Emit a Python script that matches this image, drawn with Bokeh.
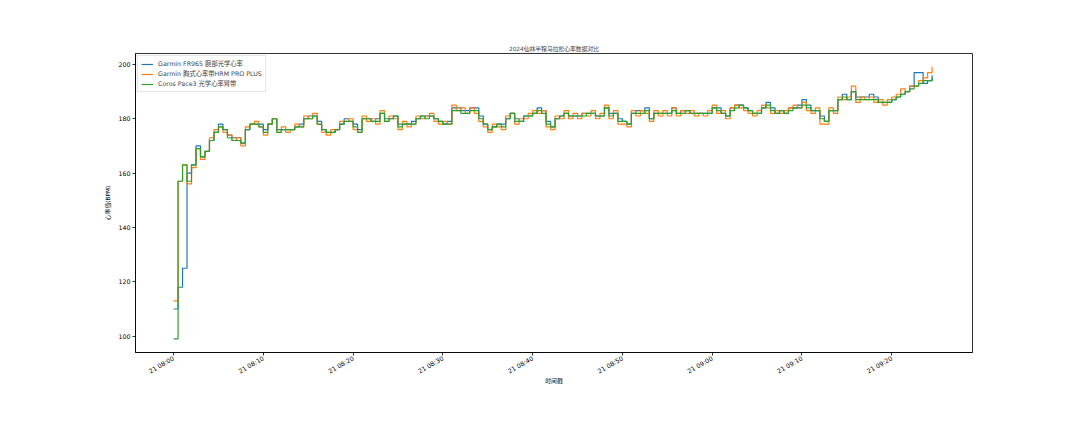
import math
from datetime import datetime, timedelta
from bokeh.plotting import figure
from bokeh.models import Range1d, FixedTicker, DatetimeTickFormatter, Legend, LegendItem
from bokeh.embed import file_html
from bokeh.resources import INLINE

TITLE = "2024仙林半程马拉松心率数据对比"
XLABEL = "时间戳"
YLABEL = "心率值(BPM)"
LABELS = ["Garmin FR965 腕部光学心率", "Garmin 胸式心率带HRM PRO PLUS", "Coros Pace3 光学心率臂带"]
COLORS = ["#1f77b4", "#ff7f0e", "#2ca02c"]

# samples every 30 s starting 08:00:00
fr965 = [
    110, 118, 125, 160, 163, 170, 166, 168, 172, 175,
    178, 176, 174, 173, 173, 171, 176, 178, 178, 178,
    176, 178, 180, 176, 176, 176, 176, 177, 178, 180,
    181, 181, 179, 176, 175, 175, 176, 178, 180, 179,
    178, 176, 180, 180, 179, 180, 182, 180, 180, 181,
    178, 178, 178, 179, 180, 181, 181, 181, 180, 179,
    178, 179, 184, 184, 183, 183, 184, 184, 181, 178,
    176, 177, 178, 178, 180, 182, 180, 179, 181, 181,
    182, 184, 183, 179, 177, 180, 181, 182, 181, 181,
    181, 182, 182, 182, 181, 181, 184, 182, 182, 180,
    179, 178, 182, 183, 183, 184, 180, 182, 182, 182,
    182, 184, 182, 183, 183, 182, 182, 182, 182, 182,
    184, 184, 182, 181, 184, 185, 185, 184, 183, 182,
    182, 184, 186, 184, 182, 183, 182, 184, 184, 185,
    187, 185, 183, 183, 181, 179, 183, 183, 187, 189,
    187, 190, 188, 188, 188, 189, 188, 186, 186, 186,
    187, 188, 189, 190, 192, 197, 197, 193, 194, 196,
]
hrm_pro = [
    113, 157, 163, 156, 162, 169, 165, 168, 173, 176,
    177, 175, 174, 172, 173, 170, 177, 178, 179, 177,
    174, 178, 180, 175, 177, 175, 176, 178, 177, 181,
    180, 182, 178, 175, 174, 176, 176, 179, 179, 180,
    176, 175, 181, 179, 180, 178, 183, 179, 181, 180,
    176, 179, 177, 178, 181, 180, 181, 182, 179, 178,
    179, 178, 185, 183, 184, 182, 184, 182, 179, 177,
    175, 178, 177, 176, 181, 182, 178, 180, 180, 182,
    183, 182, 183, 177, 176, 181, 180, 183, 180, 182,
    180, 182, 181, 183, 180, 182, 185, 180, 183, 178,
    178, 177, 183, 181, 183, 182, 179, 183, 181, 183,
    181, 184, 181, 183, 182, 183, 181, 182, 181, 183,
    185, 182, 183, 180, 184, 185, 184, 183, 182, 181,
    183, 185, 184, 182, 183, 182, 183, 184, 185, 184,
    186, 183, 182, 184, 178, 178, 184, 182, 188, 187,
    188, 192, 186, 188, 187, 188, 186, 187, 185, 187,
    188, 189, 191, 190, 192, 192, 194, 195, 197, 199,
]
pace3 = [
    99, 157, 163, 157, 163, 169, 166, 168, 172, 175,
    177, 176, 173, 172, 172, 171, 176, 178, 178, 177,
    175, 178, 180, 175, 176, 176, 176, 177, 177, 180,
    180, 181, 178, 176, 175, 175, 176, 178, 179, 179,
    177, 175, 180, 180, 179, 179, 182, 179, 180, 181,
    177, 178, 178, 178, 180, 181, 180, 181, 180, 179,
    178, 178, 183, 183, 182, 182, 183, 183, 180, 178,
    176, 177, 178, 177, 180, 182, 179, 179, 181, 181,
    182, 183, 182, 178, 177, 180, 181, 182, 181, 181,
    181, 181, 182, 182, 181, 181, 184, 181, 182, 179,
    179, 178, 182, 182, 182, 183, 180, 182, 182, 182,
    182, 183, 182, 182, 183, 182, 182, 182, 182, 182,
    184, 183, 182, 181, 183, 184, 185, 184, 183, 182,
    182, 184, 185, 183, 182, 183, 182, 183, 184, 184,
    185, 184, 183, 183, 180, 179, 183, 183, 187, 188,
    187, 190, 187, 187, 187, 187, 187, 186, 186, 186,
    187, 188, 189, 190, 191, 192, 193, 194, 194, 195,
]
YTICKS = [100, 120, 140, 160, 180, 200]
XTICK_MINUTES = [0, 10, 20, 30, 40, 50, 60, 70, 80]

start = datetime(2024, 4, 21, 8, 0, 0)
times = [start + timedelta(seconds=30 * i) for i in range(len(pace3))]

FONT = "DejaVu Sans, Noto Sans CJK SC"
FS = "5.8px"
TICK_FS = "6.3px"
LEG_FS = "6.3px"

p = figure(
    width=1064, height=424,
    x_axis_type="datetime",
    output_backend="svg", toolbar_location=None,
    x_range=Range1d(start - timedelta(minutes=4.24), start + timedelta(minutes=89.0)),
    y_range=Range1d(94.0, 204.0),
    min_border_left=135, min_border_right=92, min_border_top=53, min_border_bottom=72,
)
p.title.text = TITLE
p.title.align = "center"
p.title.text_font = FONT
p.title.text_font_size = FS
p.title.text_font_style = "normal"
p.title.standoff = 3

p.xgrid.visible = False
p.ygrid.visible = False
p.outline_line_color = "black"
p.outline_line_width = 0.8
p.background_fill_color = "white"
p.border_fill_color = "white"

renderers = []
for series, col in zip([fr965, hrm_pro, pace3], COLORS):
    r = p.step(times, series, mode="after", line_color=col, line_width=1.2)
    renderers.append(r)

legend = Legend(items=[LegendItem(label=l, renderers=[r]) for l, r in zip(LABELS, renderers)])
legend.location = "top_left"
legend.label_text_font = FONT
legend.label_text_font_size = LEG_FS
legend.label_height = 8
legend.glyph_height = 8
legend.glyph_width = 12
legend.spacing = 1
legend.padding = 3
legend.margin = 2
legend.label_standoff = 5
legend.border_line_color = "#cccccc"
legend.border_line_width = 0.8
legend.background_fill_alpha = 0.85
p.add_layout(legend)

ms_ticks = [(start + timedelta(minutes=m) - datetime(1970, 1, 1)).total_seconds() * 1000 for m in XTICK_MINUTES]
p.xaxis.ticker = FixedTicker(ticks=ms_ticks)
fmt = "%d %H:%M"
p.xaxis.formatter = DatetimeTickFormatter(
    seconds=fmt, minsec=fmt, minutes=fmt, hourmin=fmt, hours=fmt, days=fmt, months=fmt, years=fmt
)
p.xaxis.major_label_orientation = math.pi / 6
p.yaxis.ticker = FixedTicker(ticks=YTICKS)

for ax in (p.xaxis, p.yaxis):
    ax.axis_line_color = "black"
    ax.axis_line_width = 0.8
    ax.major_tick_line_color = "black"
    ax.major_tick_line_width = 0.8
    ax.major_tick_out = 3
    ax.major_tick_in = 0
    ax.minor_tick_line_color = None
    ax.major_label_text_font = FONT
    ax.major_label_text_font_size = TICK_FS
    ax.major_label_text_color = "black"
    ax.major_label_standoff = 2
    ax.axis_label_text_font = FONT
    ax.axis_label_text_font_size = FS
    ax.axis_label_text_font_style = "normal"
    ax.axis_label_text_color = "black"

p.xaxis.axis_label = XLABEL
p.yaxis.axis_label = YLABEL
p.xaxis.axis_label_standoff = -3
p.yaxis.axis_label_standoff = 4

open("out.html", "w").write(file_html(p, INLINE))
